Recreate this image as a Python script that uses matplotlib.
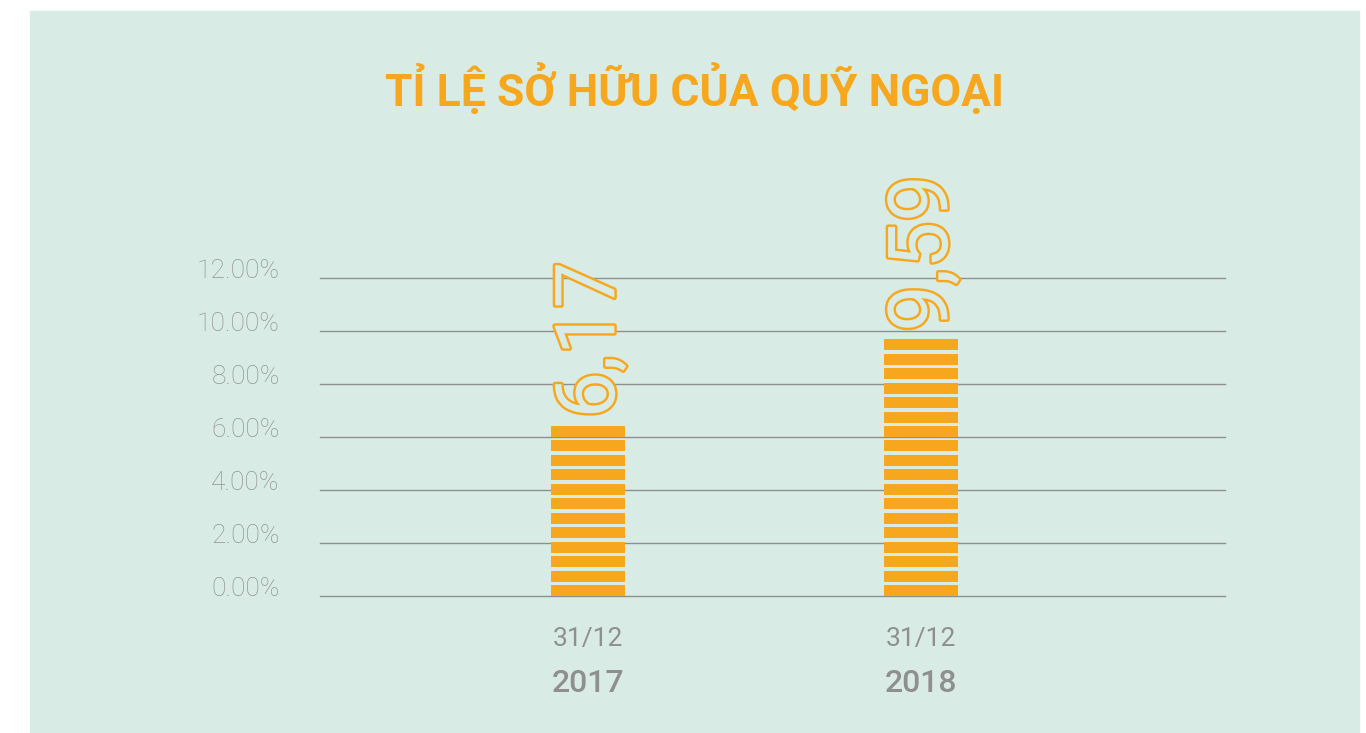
import numpy as np
import matplotlib.pyplot as plt
import matplotlib.patheffects as pe
from matplotlib.patches import Rectangle

# data
dates = ['31/12', '31/12']
years = ['2017', '2018']
ownership = [6.17, 9.59]
value_labels = ['6,17', '9,59']
yticks = [0, 2, 4, 6, 8, 10, 12]

bg = '#d8ece5'
orange = '#f7a71e'
grey = '#8f8f8f'

fig = plt.figure(figsize=(13.66, 7.33), dpi=100)
fig.patch.set_facecolor('white')
fig.add_artist(Rectangle((30 / 1366, 0), 1329 / 1366, 722 / 733,
                         transform=fig.transFigure, color=bg, zorder=-10))

ax = fig.add_axes([320 / 1366, 137 / 733, 905 / 1366, 318 / 733])
ax.set_facecolor('none')

# bars drawn as stacked stripes
unit = 0.5454
gap = 0.13
x = np.arange(len(ownership))
for xi, v, lab in zip(x, ownership, value_labels):
    n = int(np.ceil(v / unit))
    bottoms = np.arange(n) * unit
    ax.bar(np.full(n, xi), unit - gap, bottom=bottoms, width=0.225,
           color=orange, zorder=3)
    ax.text(xi + 0.01, n * unit + 0.15, lab,
            rotation=90, ha='center', va='bottom', fontsize=60,
            family='Roboto', color=bg, clip_on=False,
            path_effects=[pe.withStroke(linewidth=3.5, foreground=orange)],
            zorder=4)

ax.set_xlim(-0.805, 1.913)
ax.set_ylim(0, 12)
ax.set_yticks(yticks)
ax.set_yticklabels([f'{t:.2f}%' for t in yticks], fontsize=19,
                   color='#949494', family='Roboto', fontweight='light')
for lbl in ax.get_yticklabels():
    lbl.set_va('baseline')
ax.tick_params(axis='y', length=0, pad=29)
ax.set_xticks([])
ax.grid(axis='y', color=grey, linewidth=1)
for gl in ax.get_ygridlines():
    gl.set_clip_on(False)
ax.set_axisbelow(True)
for s in ax.spines.values():
    s.set_visible(False)

for xi, d, yr in zip(x, dates, years):
    ax.annotate(d, (xi, 0), xytext=(0, -31), textcoords='offset points',
                ha='center', va='center', fontsize=19, color=grey,
                family='Roboto')
    ax.annotate(yr, (xi, 0), xytext=(0, -63), textcoords='offset points',
                ha='center', va='center', fontsize=23, color=grey,
                family='Roboto', fontweight='medium')

fig.text(695 / 1366, 1 - 89 / 733, 'TỈ LỆ SỞ HỮU CỦA QUỸ NGOẠI',
         ha='center', va='center', fontsize=32, color=orange,
         family='Roboto', fontweight='bold')

fig.savefig('out.png', dpi=100, facecolor='white')
